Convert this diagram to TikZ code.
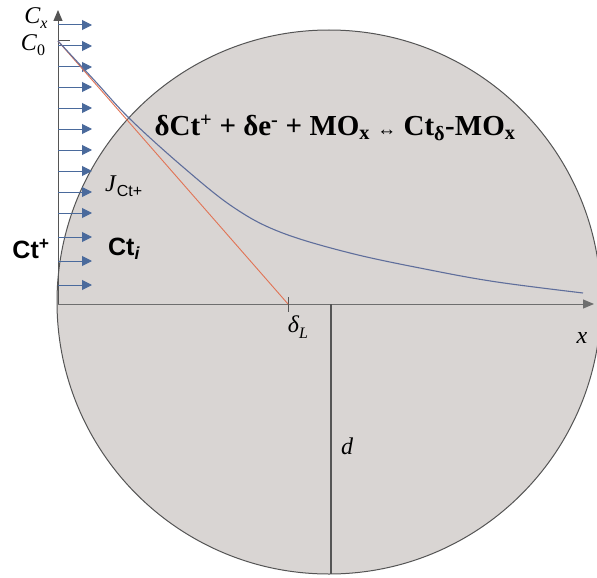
\documentclass[tikz,border=0pt]{standalone}
\usepackage{fontspec}
\setmainfont{Liberation Serif}
\setsansfont{Liberation Sans}
\usetikzlibrary{arrows.meta}
\definecolor{disc}{RGB}{217,213,211}
\definecolor{rim}{RGB}{85,85,85}
\definecolor{axis}{RGB}{110,110,110}
\definecolor{flux}{RGB}{74,106,156}
\definecolor{prof}{RGB}{95,110,155}
\definecolor{lin}{RGB}{225,115,85}
\newcommand{\subsc}[1]{\raisebox{-0.22em}{\fontsize{16}{16}\selectfont #1}}
\tikzset{
  fluxarrow/.style={draw=flux, line width=1pt, -{Triangle[length=10pt,width=10pt]}},
  axisline/.style={draw=axis, line width=1pt},
  lbl/.style={inner sep=0pt, font=\itshape\fontsize{24}{24}\selectfont},
}
\begin{document}
\begin{tikzpicture}[x=1pt,y=-1pt]
\useasboundingbox (0,0) rectangle (597,578);
\fill[white] (0,0) rectangle (597,578);
\begin{scope}
\clip (0,0) rectangle (597,578);
\filldraw[fill=disc, draw=rim, line width=1pt] (329,302) circle[radius=272];
\end{scope}
% axes
\coordinate (O) at (58,304);
\coordinate (Ytop) at (58,10);
\coordinate (Xend) at (594,304);
\coordinate (C0) at (58,41);
\coordinate (C0t) at (70,41);
\coordinate (dL) at (288,304);
\coordinate (dLt) at (288,297);
\coordinate (dLb) at (288,312);
\coordinate (dtop) at (331,304);
\coordinate (dbot) at (331,574);
\draw[axisline, -{Triangle[length=11pt,width=9pt]}, draw=rim] (O) -- (Ytop);
\draw[axisline, -{Triangle[length=11pt,width=9pt]}] (O) -- (Xend);
\draw[draw=rim, line width=1pt] (C0) -- (C0t);
\draw[draw=rim, line width=1pt] (dLt) -- (dLb);
\draw[draw=rim, line width=1.2pt] (dtop) -- (dbot);
% flux arrows
\foreach \yy/\nm in {25/a1,46/a2,67/a3,87/a4,108/a5,129/a6,150/a7,171/a8,192/a9,213/a10,237/a11,261/a12,285/a13}{
  \coordinate (\nm s) at (58,\yy);
  \coordinate (\nm e) at (92,\yy);
  \draw[fluxarrow] (\nm s) -- (\nm e);
}
% linear profile
\draw[draw=lin, line width=0.9pt] (C0) -- (dL);
% concentration profile
\draw[draw=prof, line width=1.1pt] plot[smooth, tension=0.6] coordinates {(58,41) (95,81) (130,119) (183,167) (233,207) (280,232) (350,253) (430,270) (497,282) (583,293)};
% labels
\node[lbl] (cx) at (36,18) {C\subsc{x}};
\node[lbl] (c0) at (33,45) {C\subsc{\upshape 0}};
\node[lbl] (dl) at (298,327) {δ\subsc{L}};
\node[lbl] (xl) at (582,338) {x};
\node[lbl] (dd) at (347,446) {d};
\node[lbl, anchor=west] (J) at (105,186) {J\kern1pt{\upshape\sffamily\subsc{Ct+}}};
\node[inner sep=0pt, font=\sffamily\bfseries\fontsize{25}{25}\selectfont] (ctp) at (31,249) {Ct\textsuperscript{+}};
\node[inner sep=0pt, font=\sffamily\bfseries\fontsize{25}{25}\selectfont] (cti) at (124,249) {Ct\textsubscript{\itshape i}};
\node[inner sep=0pt, font=\bfseries\fontsize{29}{29}\selectfont] (eq) at (335,128) {δCt\textsuperscript{+} + δe\textsuperscript{-} + MO\textsubscript{x} {\fontsize{19}{19}\selectfont↔} Ct\textsubscript{δ}-MO\textsubscript{x}};
\end{tikzpicture}
\end{document}
